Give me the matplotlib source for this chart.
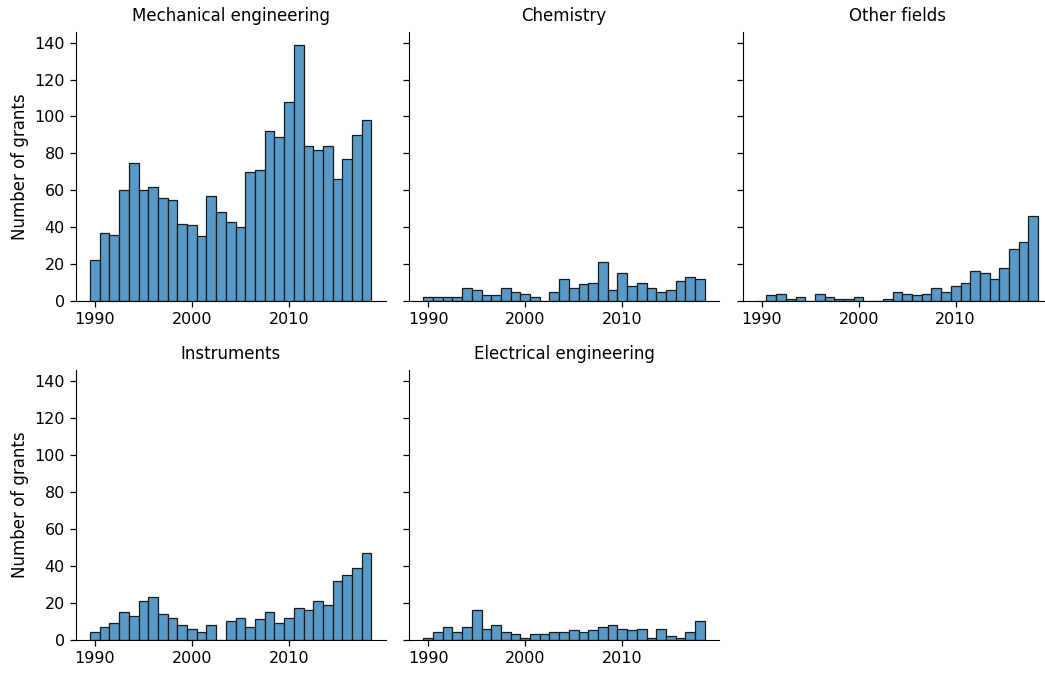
import matplotlib
matplotlib.use("Agg")
import matplotlib.pyplot as plt
import numpy as np

years = list(range(1990, 2019))

fields = ["Mechanical engineering", "Chemistry", "Other fields",
          "Instruments", "Electrical engineering"]

mechanical = [22, 37, 36, 60, 75, 60, 62, 56, 55, 42, 41, 35, 57, 48, 43,
              40, 70, 71, 92, 89, 108, 139, 84, 82, 84, 66, 77, 90, 98]
chemistry = [2, 2, 2, 2, 7, 6, 3, 3, 7, 5, 4, 2, 0, 5, 12,
             7, 9, 10, 21, 6, 15, 8, 10, 7, 5, 6, 11, 13, 12]
other = [0, 3, 4, 1, 2, 0, 4, 2, 1, 1, 2, 0, 0, 1, 5,
         4, 3, 4, 7, 5, 8, 10, 16, 15, 12, 18, 28, 32, 46]
instruments = [4, 7, 9, 15, 13, 21, 23, 14, 12, 8, 6, 4, 8, 0, 10,
               12, 7, 11, 15, 9, 12, 17, 16, 21, 19, 32, 35, 39, 47]
electrical = [1, 4, 7, 4, 7, 16, 6, 8, 4, 3, 1, 3, 3, 4, 4,
              5, 4, 5, 7, 8, 6, 5, 6, 1, 6, 2, 1, 4, 10]

series = [mechanical, chemistry, other, instruments, electrical]

W, H = 1045, 673
fig = plt.figure(figsize=(W / 100, H / 100), dpi=100)

axw = 309.5
axh = 269.3
lefts = [76, 409.3, 742.7]
bottoms = [301, 639.7]

face = (0.341, 0.600, 0.780)
ymax = max(mechanical) * 1.05

axes = []
for i, (name, vals) in enumerate(zip(fields, series)):
    r, c = divmod(i, 3)
    ax = fig.add_axes([lefts[c] / W, (H - bottoms[r]) / H, axw / W, axh / H])
    ax.bar(years, vals, width=1.0, align="center", color=face,
           edgecolor=(0.1, 0.1, 0.1), linewidth=0.9)
    ax.set_xlim(1989.5 - 1.45, 2018.5 + 1.45)
    ax.set_ylim(0, ymax)
    ax.set_xticks([1990, 2000, 2010])
    ax.set_yticks(range(0, 141, 20))
    ax.spines["top"].set_visible(False)
    ax.spines["right"].set_visible(False)
    ax.tick_params(labelsize=11.5, length=4.5, width=0.9)
    ax.set_title(name, fontsize=12, pad=8)
    if c == 0:
        ax.set_ylabel("Number of grants", fontsize=12)
    else:
        ax.tick_params(labelleft=False)
    axes.append(ax)

fig.savefig("out.png", dpi=100)
